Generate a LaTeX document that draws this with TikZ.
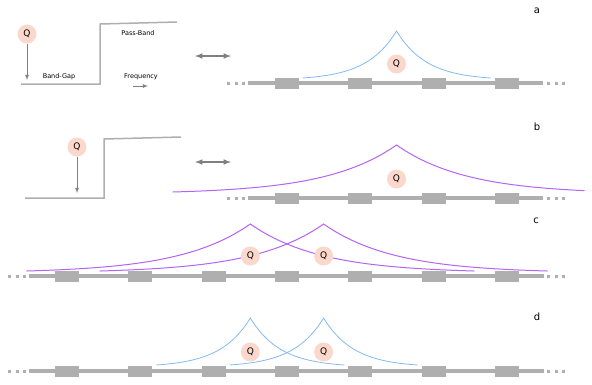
\documentclass[tikz,border=0pt]{standalone}
\usepackage{fontspec}
\setmainfont{DejaVu Sans}
\definecolor{wgray}{RGB}{175,175,175}
\definecolor{agray}{RGB}{128,128,128}
\definecolor{qpink}{RGB}{252,216,204}
\definecolor{mblue}{RGB}{130,185,245}
\definecolor{mpurple}{RGB}{180,100,245}
\begin{document}
\begin{tikzpicture}[x=1pt,y=-1pt,every node/.style={inner sep=1pt}]
\tikzstyle{arrow}=[draw,agray,line width=1.5pt,latex-latex]
\tikzstyle{qarrow}=[draw,agray,line width=0.8pt,-latex]
\tikzstyle{band}=[draw,wgray,line width=1.5pt]
\tikzstyle{wguide}=[draw,wgray,line width=3.5pt]
\tikzstyle{wdots}=[draw,wgray,line width=3pt,dash pattern=on 3pt off 4.5pt]
\tikzstyle{cell}=[fill=wgray]
\tikzstyle{qdot}=[circle,fill=qpink,minimum size=19pt,inner sep=0pt,font=\fontsize{9}{9}\selectfont]
\tikzstyle{lbl}=[font=\fontsize{6.5}{7}\selectfont]
\tikzstyle{tag}=[font=\fontsize{10}{10}\selectfont]
\tikzstyle{narrow}=[draw,mblue,line width=0.8pt]
\tikzstyle{wide}=[draw,mpurple,line width=1pt]
\useasboundingbox (0,0) rectangle (592,384);

% waveguides
\foreach \y in {83,198}{
  \path[wdots](227,\y)--(245,\y);
  \path[wguide](248,\y)--(543,\y);
  \path[wdots](547,\y)--(565,\y);
  \foreach \k in {3,...,6}
    \path[cell]({55+73.3*\k},{\y-5.5}) rectangle ++(24,11);
}
\foreach \y in {276,371}{
  \path[wdots](8,\y)--(26,\y);
  \path[wguide](29,\y)--(544,\y);
  \path[wdots](547,\y)--(565,\y);
  \foreach \k in {0,...,6}
    \path[cell]({55+73.3*\k},{\y-5.5}) rectangle ++(24,11);
}

% field profiles
\path[narrow] plot[samples at={-94,-92,...,94}] ({396.5+\x},{78-47*(exp(-abs(\x)/30)-0.0436)/(1-0.0436)});
\path[wide] plot[samples at={-224,-220,...,188}] ({396.5+\x},{192-47*(exp(-abs(\x)/70)-0.0408)/(1-0.0408)});
\path[wide] plot[samples at={-224,-220,...,224}] ({250.3+\x},{271-47*(exp(-abs(\x)/70)-0.0408)/(1-0.0408)});
\path[wide] plot[samples at={-224,-220,...,224}] ({323.6+\x},{271-47*(exp(-abs(\x)/70)-0.0408)/(1-0.0408)});
\path[narrow] plot[samples at={-94,-92,...,94}] ({250.3+\x},{365-47*(exp(-abs(\x)/30)-0.0436)/(1-0.0436)});
\path[narrow] plot[samples at={-94,-92,...,94}] ({323.6+\x},{365-47*(exp(-abs(\x)/30)-0.0436)/(1-0.0436)});

% band diagram a
\coordinate(ga0) at (21,84);
\coordinate(ga1) at (100,84);
\coordinate(ga2) at (100,24);
\coordinate(ga3) at (177,22);
\path[band](ga0)--(ga1)--(ga2)--(ga3);
\node[qdot](qa0) at (27,34){Q};
\coordinate(ta) at (27,80);
\path[qarrow](qa0.south)--(ta);
\node[lbl](gap) at (59,77){Band-Gap};
\node[lbl](pass) at (138,33){Pass-Band};
\node[lbl](freq) at (141,77){Frequency};
\coordinate(fa0) at (133,86);
\coordinate(fa1) at (148,86);
\path[qarrow](fa0)--(fa1);
\coordinate(da0) at (195,56);
\coordinate(da1) at (231,56);
\path[arrow](da0)--(da1);

% band diagram b
\coordinate(gb0) at (25,198);
\coordinate(gb1) at (104,198);
\coordinate(gb2) at (104,139);
\coordinate(gb3) at (181,137);
\path[band](gb0)--(gb1)--(gb2)--(gb3);
\node[qdot](qb0) at (77,147){Q};
\coordinate(tb) at (77,193);
\path[qarrow](qb0.south)--(tb);
\coordinate(db0) at (195,162);
\coordinate(db1) at (231,162);
\path[arrow](db0)--(db1);

% emitters
\node[qdot](qa1) at (396.5,64){Q};
\node[qdot](qb1) at (396.5,179){Q};
\node[qdot](qc1) at (250.3,256){Q};
\node[qdot](qc2) at (323.6,256){Q};
\node[qdot](qd1) at (250.3,352){Q};
\node[qdot](qd2) at (323.6,352){Q};

\node[tag](la) at (537,11){a};
\node[tag](lb) at (537,127){b};
\node[tag](lc) at (536,221){c};
\node[tag](ld) at (537,317){d};
\end{tikzpicture}
\end{document}
